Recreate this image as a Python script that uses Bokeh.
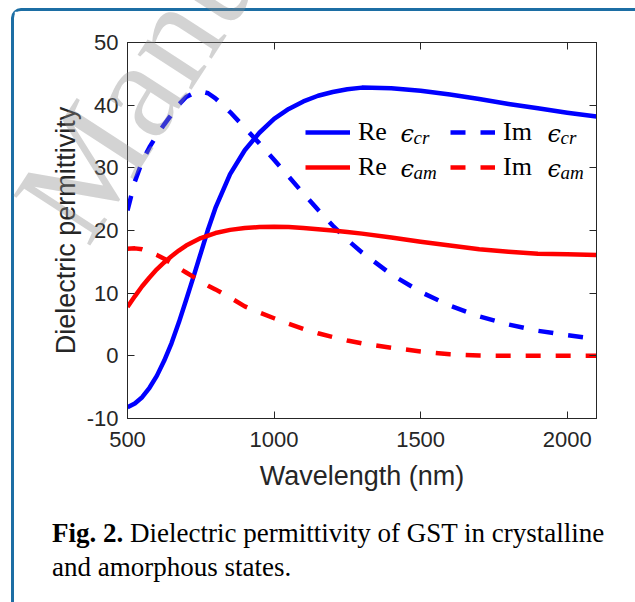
from bokeh.plotting import figure
from bokeh.models import (LinearAxis, FixedTicker, Legend, LegendItem, Label, Div, Range1d)
from bokeh.layouts import column
from bokeh.embed import file_html
from bokeh.resources import INLINE

# ---------------- data ----------------
wavelength = [500, 525, 550, 575, 600, 625, 650, 675, 700, 725, 750, 775, 800, 850, 900,
              950, 1000, 1050, 1100, 1150, 1200, 1250, 1300, 1400, 1500, 1600, 1700, 1800,
              1900, 2000, 2100]
re_cr = [-8.2, -7.6, -6.6, -5.1, -3.2, -0.8, 2.0, 5.3, 8.9, 12.6, 16.4, 20.2, 23.6, 29.0,
         32.8, 35.6, 37.8, 39.4, 40.6, 41.5, 42.1, 42.55, 42.8, 42.7, 42.3, 41.7, 41.0,
         40.2, 39.5, 38.8, 38.2]
im_cr = [23.2, 27.8, 31.0, 33.3, 35.2, 36.9, 38.5, 40.1, 41.3, 41.9, 42.2, 41.9, 41.1,
         38.9, 36.4, 33.9, 31.3, 28.6, 25.9, 23.3, 20.8, 18.5, 16.5, 13.0, 10.2, 8.0, 6.3,
         5.0, 4.0, 3.3, 2.7]
re_am = [7.8, 9.5, 11.1, 12.5, 13.8, 14.9, 15.9, 16.8, 17.6, 18.2, 18.8, 19.2, 19.6, 20.1,
         20.4, 20.55, 20.6, 20.55, 20.4, 20.2, 20.0, 19.75, 19.5, 18.9, 18.2, 17.6, 17.0,
         16.6, 16.3, 16.2, 16.1]
im_am = [17.1, 17.15, 17.0, 16.6, 16.1, 15.5, 14.8, 14.0, 13.3, 12.6, 11.9, 11.2, 10.6,
         9.3, 7.9, 6.9, 6.0, 5.1, 4.3, 3.6, 3.0, 2.45, 2.0, 1.3, 0.7, 0.25, 0.05, 0.0, 0.0,
         0.0, 0.0]

x_ticks = [500, 1000, 1500, 2000]
y_ticks = [-10, 0, 10, 20, 30, 40, 50]
x_label = "Wavelength (nm)"
y_label = "Dielectric permittivity"
legend_names = ["Re", "Re", "Im", "Im"]
legend_subs = ["cr", "am", "cr", "am"]
watermark = "Manuscript"

AX = "#262626"
BLUE = "#0000ff"
RED = "#ff0000"

FIG_H = 31 + 376 + 86

p = figure(frame_width=469, frame_height=376,
           x_range=Range1d(500, 2100), y_range=Range1d(-10, 50),
           output_backend="svg", toolbar_location=None,
           min_border_left=113, min_border_right=39, min_border_top=31,
           min_border_bottom=86, background_fill_color="white",
           border_fill_color="white")
p.xgrid.visible = False
p.ygrid.visible = False
p.outline_line_color = AX
p.outline_line_width = 1

def style_axis(ax, ticks, show_labels=True):
    ax.ticker = FixedTicker(ticks=ticks)
    ax.axis_line_color = AX
    ax.axis_line_width = 1
    ax.major_tick_line_color = AX
    ax.major_tick_in = 7
    ax.major_tick_out = 0
    ax.minor_tick_in = 0
    ax.minor_tick_out = 0
    ax.minor_tick_line_color = None
    ax.major_label_text_font = "Liberation Sans"
    ax.major_label_text_color = AX
    ax.major_label_text_font_size = "22px"
    if show_labels:
        ax.major_label_overrides = {t: ("-" + str(-t) if t < 0 else str(t)) for t in ticks}
    else:
        ax.major_label_overrides = {t: "" for t in ticks}
        ax.major_label_standoff = 0

xa = p.xaxis[0]
ya = p.yaxis[0]
style_axis(xa, x_ticks)
style_axis(ya, y_ticks)
xa.major_label_standoff = 13
ya.major_label_standoff = 9
xa.axis_label = x_label
ya.axis_label = y_label
for ax in (xa, ya):
    ax.axis_label_text_font = "Liberation Sans"
    ax.axis_label_text_font_size = "27px"
    ax.axis_label_text_font_style = "normal"
    ax.axis_label_text_color = AX
xa.axis_label_standoff = 11
ya.axis_label_standoff = 3

top = LinearAxis()
style_axis(top, x_ticks, show_labels=False)
p.add_layout(top, "above")
right = LinearAxis()
style_axis(right, y_ticks, show_labels=False)
p.add_layout(right, "right")

lw = 4.5
r_re_cr = p.line(wavelength, re_cr, line_color=BLUE, line_width=lw, line_join="round")
r_im_cr = p.line(wavelength, im_cr, line_color=BLUE, line_width=lw, line_dash="15 15")
r_re_am = p.line(wavelength, re_am, line_color=RED, line_width=lw, line_join="round")
r_im_am = p.line(wavelength, im_am, line_color=RED, line_width=lw, line_dash="15 15")

def make_legend(items, loc):
    lg = Legend(items=items, location=loc, orientation="vertical",
                padding=0, margin=0, spacing=5, glyph_width=45, glyph_height=30,
                label_height=30, label_standoff=8,
                label_text_font="Liberation Serif", label_text_font_size="26px",
                label_text_color="black",
                border_line_color=None, background_fill_alpha=0)
    p.add_layout(lg, "center")
    return lg

make_legend([LegendItem(label=legend_names[0], renderers=[r_re_cr]),
             LegendItem(label=legend_names[1], renderers=[r_re_am])], (178, 236))
make_legend([LegendItem(label=legend_names[2], renderers=[r_im_cr]),
             LegendItem(label=legend_names[3], renderers=[r_im_am])], (323, 236))

# epsilon symbols and subscripts next to legend labels
eps_pos = [(273, 285), (273, 250), (420, 285), (420, 250)]
for (ex, ey), sub in zip(eps_pos, legend_subs):
    p.add_layout(Label(x=ex, y=ey, x_units="screen", y_units="screen", text="\u03f5",
                       text_font="DejaVu Serif", text_font_style="italic",
                       text_font_size="24px", text_baseline="alphabetic",
                       text_color="black"))
    p.add_layout(Label(x=ex + 13, y=ey - 4, x_units="screen", y_units="screen", text=sub,
                       text_font="Liberation Serif", text_font_style="italic",
                       text_font_size="19px", text_baseline="alphabetic",
                       text_color="black"))

# caption (with the faint diagonal watermark overlaid on the whole panel)
wm_left = 69
wm_top = -(FIG_H - 243) - 127
caption_html = (
    "<div style=\"position:relative;\">"
    f"<div style=\"position:absolute; left:{wm_left}px; top:{wm_top}px; "
    "font-family:'Liberation Serif'; font-size:140px; line-height:140px; "
    "white-space:nowrap; color:rgba(140,140,140,0.38); transform:rotate(-57deg); "
    "transform-origin:0px 117px; pointer-events:none; z-index:10;\">"
    f"{watermark}</div>"
    "<div style=\"padding-left:33px; padding-top:7px; "
    "font-family:'Liberation Serif'; font-size:27px; line-height:34px; color:black;\">"
    "<b>Fig. 2.</b> Dielectric permittivity of GST in crystalline<br>"
    "and amorphous states.</div></div>"
)
caption = Div(text=caption_html, width=621, height=602 - 8 - 3 - FIG_H - 1,
              styles={"overflow": "visible", "z-index": "10"})

layout = column(p, caption,
                styles={"border-top": "3px solid #1c6ea4",
                        "border-left": "3px solid #1c6ea4",
                        "border-top-left-radius": "10px",
                        "margin-left": "11px",
                        "margin-top": "8px",
                        "background-color": "white"})

open("out.html", "w").write(file_html(layout, INLINE))
